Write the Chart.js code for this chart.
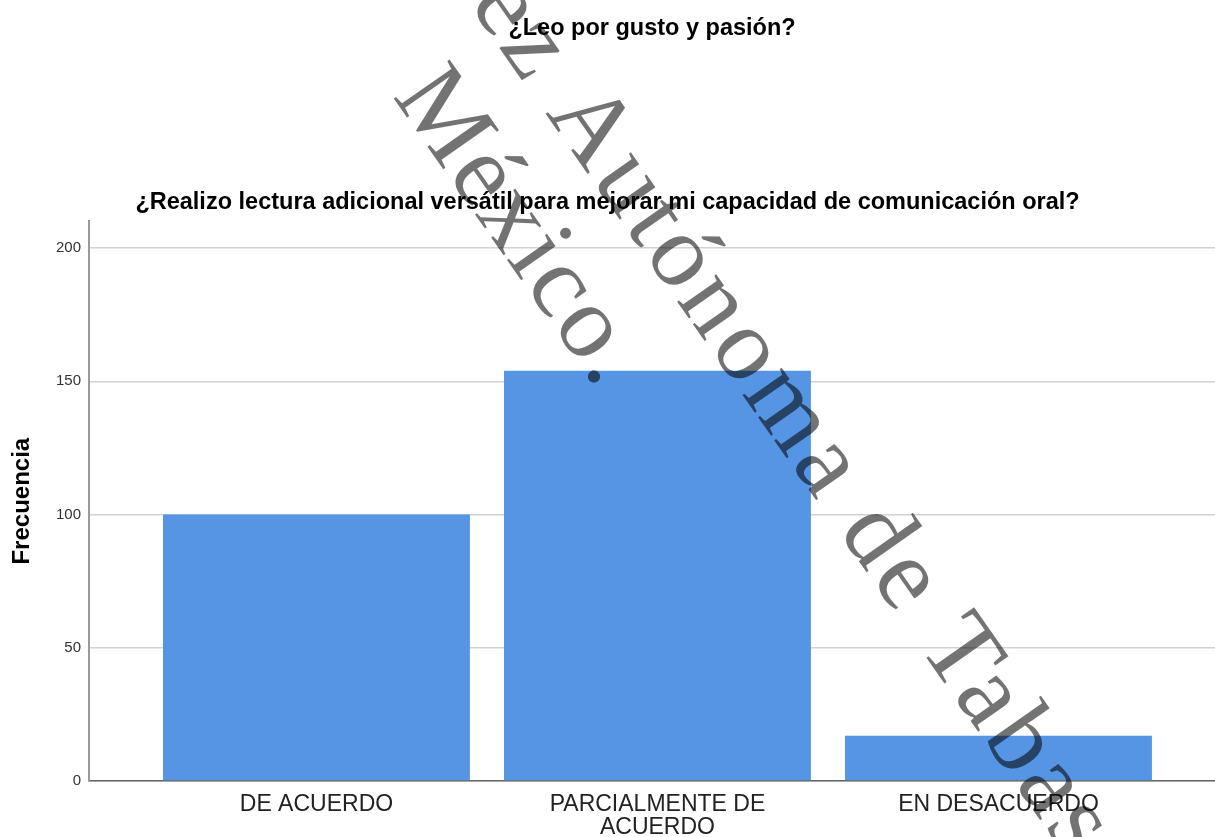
<!DOCTYPE html>
<html>
<head>
<meta charset="utf-8">
<script src="https://cdn.jsdelivr.net/npm/chart.js@4.4.1/dist/chart.umd.min.js"></script>
<style>
html, body { margin: 0; padding: 0; background: #fff; }
#wrap { position: relative; width: 1215px; height: 837px; }
</style>
</head>
<body>
<div id="wrap"><canvas id="barChart"></canvas></div>
<script>
const categories = [["DE ACUERDO"], ["PARCIALMENTE DE", "ACUERDO"], ["EN DESACUERDO"]];
const frequencies = [100, 154, 17];
const yTicks = [0, 50, 100, 150, 200];
const chartTitle = "¿Leo por gusto y pasión?";
const chartSubtitle = "¿Realizo lectura adicional versátil para mejorar mi capacidad de comunicación oral?";
const yTitle = "Frecuencia";
const watermarkLines = ["Universidad Juárez Autónoma de Tabasco.", "México."];

const sans = '"Liberation Sans", Arial, sans-serif';

// diagonal watermark printed over the whole figure
const watermark = {
    id: 'watermark',
    afterDraw(chart) {
        const ctx = chart.ctx;
        const angle = 55 * Math.PI / 180;
        ctx.save();
        ctx.font = '104px "Liberation Serif", "Times New Roman", serif';
        ctx.fillStyle = 'rgba(0,0,0,0.55)';
        ctx.textAlign = 'left';
        ctx.textBaseline = 'alphabetic';

        // first line: the "A" of "Autónoma" sits at (545,113)
        ctx.save();
        ctx.translate(545, 113);
        ctx.rotate(angle);
        ctx.letterSpacing = '5px';
        const pre = ctx.measureText('Universidad Juárez ').width;
        ctx.fillText(watermarkLines[0], -pre, 0);
        ctx.restore();

        // second line
        ctx.save();
        ctx.translate(392, 96);
        ctx.rotate(angle);
        ctx.letterSpacing = '2.5px';
        ctx.fillText(watermarkLines[1], 0, 0);
        ctx.restore();

        ctx.restore();
    }
};

const ctx = document.getElementById('barChart').getContext('2d');
new Chart(ctx, {
    type: 'bar',
    data: {
        datasets: [{
            data: frequencies.map((v, i) => ({ x: i + 1, y: v })),
            backgroundColor: '#5595e3',
            borderWidth: 0,
            categoryPercentage: 1,
            barPercentage: 0.9
        }]
    },
    options: {
        responsive: true,
        maintainAspectRatio: false,
        animation: false,
        layout: { padding: 0 },
        plugins: {
            legend: { display: false },
            tooltip: { enabled: false },
            title: {
                display: true,
                text: chartTitle,
                fullSize: false,
                color: '#000',
                font: { family: sans, size: 23.5, weight: 'bold', lineHeight: 1.2 },
                padding: { top: 14, bottom: 73 }
            },
            subtitle: {
                display: true,
                text: chartSubtitle,
                color: '#000',
                font: { family: sans, size: 23.5, weight: 'bold', lineHeight: 1.2 },
                padding: { top: 73, bottom: 5 }
            }
        },
        scales: {
            x: {
                type: 'linear',
                offset: false,
                min: 0.333,
                max: 3.635,
                afterBuildTicks: (axis) => { axis.ticks = categories.map((c, i) => ({ value: i + 1 })); },
                afterFit: (axis) => { axis.height = 56; },
                grid: { display: false, drawTicks: false, offset: false },
                border: { color: '#666', width: 1.5 },
                ticks: {
                    autoSkip: false,
                    maxRotation: 0,
                    padding: 12,
                    color: '#222',
                    font: { family: sans, size: 23, lineHeight: 1.0 },
                    callback: (v) => categories[Math.round(v) - 1]
                }
            },
            y: {
                min: 0,
                max: 210,
                afterBuildTicks: (axis) => { axis.ticks = yTicks.map(v => ({ value: v })); },
                afterFit: (axis) => { axis.width = 89; },
                grid: { color: '#d2d2d2', lineWidth: 1.5, drawTicks: false },
                border: { color: '#9a9a9a', width: 2 },
                ticks: {
                    padding: 8,
                    color: '#333',
                    font: { family: sans, size: 15 }
                },
                title: {
                    display: true,
                    text: yTitle,
                    color: '#000',
                    font: { family: sans, size: 24, weight: 'bold' },
                    padding: { top: 8, bottom: 0 }
                }
            }
        }
    },
    plugins: [watermark]
});
</script>
</body>
</html>
